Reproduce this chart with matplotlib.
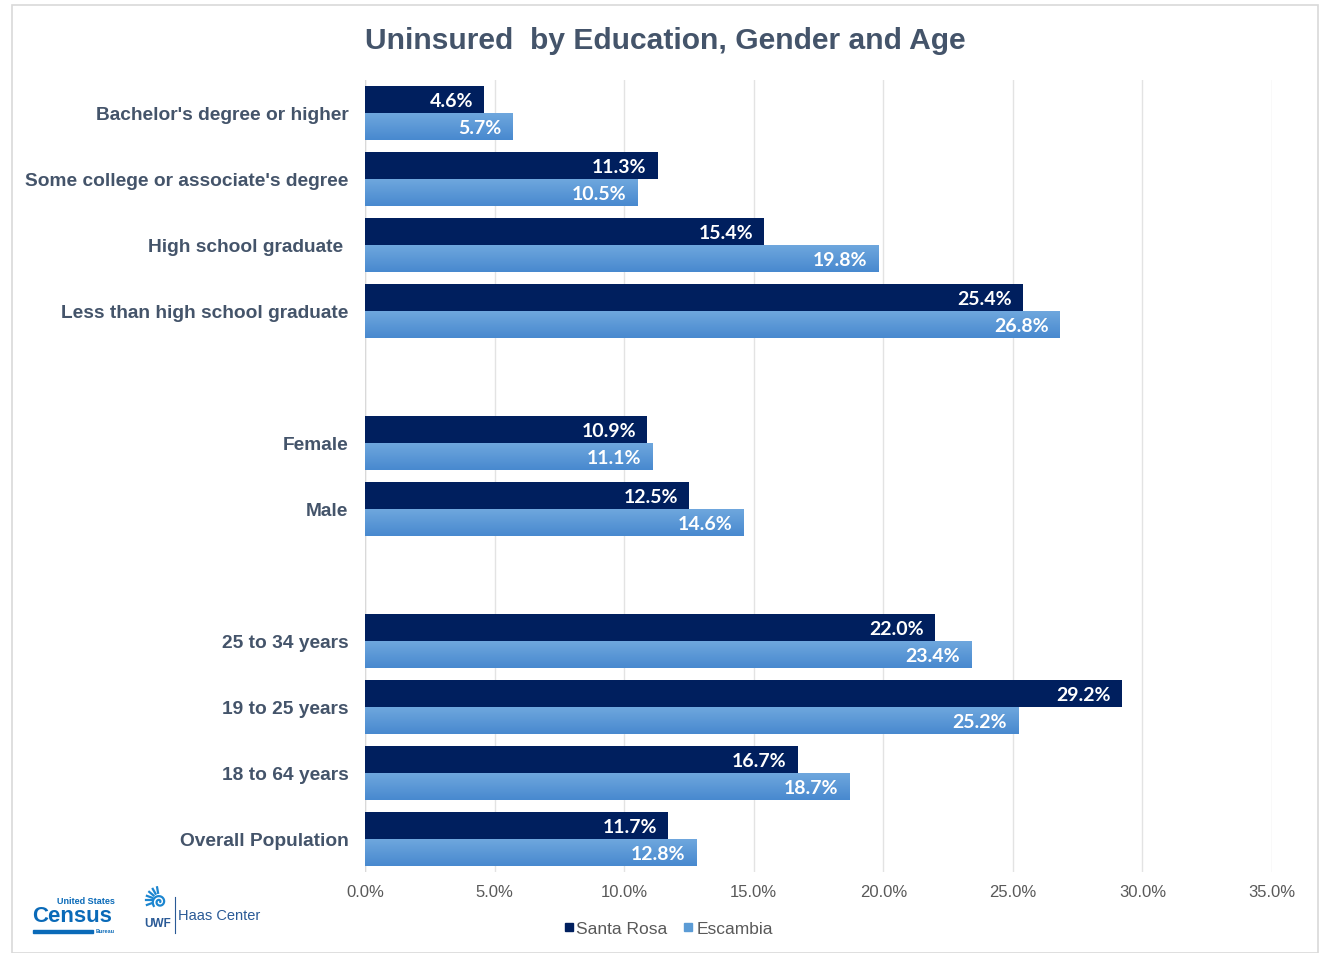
import numpy as np
import matplotlib
matplotlib.use("Agg")
import matplotlib.pyplot as plt
from matplotlib.patches import Rectangle
from matplotlib.lines import Line2D

categories = ["Bachelor's degree or higher", "Some college or associate's degree",
              "High school graduate ", "Less than high school graduate", "",
              "Female", "Male", "",
              "25 to 34 years", "19 to 25 years", "18 to 64 years", "Overall Population"]
santa_rosa = [4.6, 11.3, 15.4, 25.4, np.nan, 10.9, 12.5, np.nan, 22.0, 29.2, 16.7, 11.7]
escambia = [5.7, 10.5, 19.8, 26.8, np.nan, 11.1, 14.6, np.nan, 23.4, 25.2, 18.7, 12.8]
x_ticks = [0, 5, 10, 15, 20, 25, 30, 35]
series_names = ["Santa Rosa", "Escambia"]

DARK = "#001f5e"
LIGHT = "#5b9bd5"
TXT = "#44546a"

W, H = 1321, 954
fig = plt.figure(figsize=(W / 100, H / 100), dpi=100)
fig.patch.set_facecolor("white")

# chart frame
fig.add_artist(Rectangle((12 / W, 0), 1306 / W, 1 - 6 / H, transform=fig.transFigure,
                         fill=False, edgecolor="#d9d9d9", linewidth=1.2))

ax = fig.add_axes([365 / W, 1 - 873 / H, (1272 - 365) / W, (873 - 81) / H])
y = np.arange(len(categories))
h = 0.41
b1 = ax.barh(y - h / 2, santa_rosa, height=h, color=DARK, zorder=3, label=series_names[0])
b2 = ax.barh(y + h / 2, escambia, height=h, color=LIGHT, zorder=3, label=series_names[1])

# gradient fill for Escambia bars
grad = np.linspace(0, 1, 64).reshape(-1, 1)
cmap = matplotlib.colors.LinearSegmentedColormap.from_list("g", ["#70a8de", "#4889cf"])
for rect in b2.patches:
    if np.isnan(rect.get_width()):
        continue
    x0, y0 = rect.get_x(), rect.get_y()
    w, hh = rect.get_width(), rect.get_height()
    im = ax.imshow(grad, cmap=cmap, aspect="auto", extent=(x0, x0 + w, y0 + hh, y0),
                   origin="upper", zorder=4)
    im.set_clip_path(rect)

for bars, vals in ((b1, santa_rosa), (b2, escambia)):
    for rect, v in zip(bars.patches, vals):
        if np.isnan(v):
            continue
        ax.annotate(f"{v:.1f}%", xy=(v, rect.get_y() + rect.get_height() / 2),
                    xytext=(-8, -1), textcoords="offset points", ha="right", va="center",
                    color="white", fontsize=14, fontweight="bold",
                    family=["Lato", "DejaVu Sans"], zorder=6)

ax.set_xlim(0, 35)
ax.set_ylim(len(categories) - 0.5, -0.5)
ax.set_xticks(x_ticks)
ax.set_xticklabels([f"{t:.1f}%" for t in x_ticks], fontsize=12, color="#595959",
                   family="Liberation Sans")
ax.set_yticks(y)
ax.set_yticklabels(categories, fontsize=13.8, fontweight="bold", color=TXT,
                   family="Liberation Sans")
ax.tick_params(axis="both", length=0)
ax.tick_params(axis="y", pad=12)
ax.tick_params(axis="x", pad=9)
ax.grid(axis="x", color="#e3e3e3", linewidth=1, zorder=0)
for s in ax.spines.values():
    s.set_visible(False)
ax.axvline(0, color="#d9d9d9", linewidth=1, zorder=2)

fig.text(665 / W, 1 - 41 / H, "Uninsured  by Education, Gender and Age", ha="center", va="center",
         fontsize=21.6, fontweight="bold", color="#44546a", family="Liberation Sans")

handles = [Line2D([], [], marker="s", linestyle="", color=DARK, markersize=6),
           Line2D([], [], marker="s", linestyle="", color=LIGHT, markersize=6)]
fig.legend(handles, series_names, loc="center", bbox_to_anchor=(668 / W, 1 - 929 / H),
           ncol=2, frameon=False, handlelength=0.6, handletextpad=0.15, columnspacing=0.9,
           labelcolor="#595959", prop={"family": "Liberation Sans", "size": 12.5})

# Census logo (text approximation)
CB = "#0a6ab8"
fig.text(115 / W, 1 - 902 / H, "United States", ha="right", va="center", fontsize=6.5,
         fontweight="bold", color=CB, family="Liberation Sans")
fig.text(32 / W, 1 - 917 / H, "Census", ha="left", va="center", fontsize=16,
         fontweight="bold", color=CB, family="Liberation Sans")
fig.add_artist(Rectangle((33 / W, 1 - 934 / H), 60 / W, 3 / H, transform=fig.transFigure,
                         color=CB))
fig.text(115 / W, 1 - 932 / H, "Bureau", ha="right", va="center", fontsize=4,
         fontweight="bold", color=CB, family="Liberation Sans")

# UWF Haas Center logo (text approximation)
HB = "#2a5a96"
icon = fig.add_axes([144 / W, 1 - 914 / H, 28 / W, 28 / H])
icon.set_xlim(-1, 1)
icon.set_ylim(-1, 1)
icon.axis("off")
t = np.linspace(0, 3.2 * np.pi, 200)
r = 0.08 + 0.17 * t / np.pi
icon.plot(r * np.cos(t) * 0.8 + 0.1, r * np.sin(t) * 0.8 - 0.2, color="#1d86d0", lw=1.6)
for ang in np.linspace(100, 200, 6):
    a = np.deg2rad(ang)
    icon.plot([0.55 * np.cos(a) + 0.1, 0.95 * np.cos(a) + 0.1],
              [0.55 * np.sin(a) - 0.1, 0.95 * np.sin(a) - 0.1], color="#1d86d0", lw=1.6)
fig.text(158 / W, 1 - 924 / H, "UWF", ha="center", va="center", fontsize=8.5,
         fontweight="bold", color=HB, family="Liberation Sans")
fig.add_artist(Line2D([175 / W, 175 / W], [1 - 898 / H, 1 - 934 / H], transform=fig.transFigure,
                      color=HB, lw=0.8))
fig.text(178 / W, 1 - 916 / H, "Haas Center", ha="left", va="center", fontsize=10.5,
         color=HB, family="Liberation Sans")

fig.savefig("out.png", dpi=100, facecolor="white")
